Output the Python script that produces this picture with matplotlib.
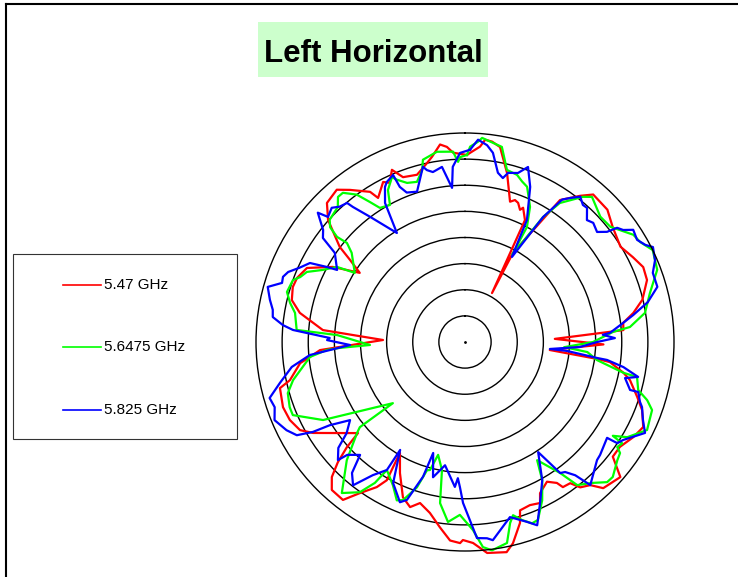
import numpy as np
import matplotlib
matplotlib.use('Agg')
import matplotlib.pyplot as plt
from matplotlib.patches import Rectangle
from matplotlib.lines import Line2D

title = "Left Horizontal"
labels = ["5.47 GHz", "5.6475 GHz", "5.825 GHz"]
colors = ["#ff0000", "#00ff00", "#0000ff"]

# angle in degrees (clockwise from top), level in dB
red_ang = [0.6, 1.5, 4.4, 5.7, 7.7, 10.2, 14.0, 17.8, 19.4, 20.9, 22.6, 23.4, 26.2, 28.9, 28.3,
           33.8, 38.2, 41.0, 47.1, 52.2, 58.5, 63.2, 67.2, 71.2, 76.6, 80.2, 83.1, 85.7, 88.0,
           91.0, 95.4, 97.3, 97.9, 101.0, 103.0, 107.7, 111.0, 115.5, 119.5, 124.1, 127.8,
           131.0, 136.6, 138.8, 141.6, 143.3, 146.0, 146.9, 149.6, 153.6, 155.0, 158.3, 161.9,
           163.1, 166.6, 168.8, 174.0, 177.7, 180.6, 181.4, 184.3, 187.7, 191.6, 195.6, 198.4,
           201.8, 206.4, 210.4, 209.5, 211.3, 214.8, 217.7, 222.0, 224.6, 226.6, 228.3, 229.6,
           239.1, 241.9, 246.0, 250.3, 256.0, 257.7, 262.7, 264.5, 266.8, 271.4, 274.8, 280.0,
           283.6, 287.7, 290.9, 295.1, 299.6, 303.3, 305.5, 307.2, 311.7, 315.2, 319.9, 322.9,
           327.7, 328.9, 332.9, 334.7, 337.0, 339.4, 344.0, 348.0, 349.9, 352.8, 354.7, 356.4]
red_db = [-4.2, -3.8, -2.5, -1.1, -1.3, -2.1, -6.7, -11.8, -11.2, -11.5, -12.6, -12.0, -14.0, -29.3, -20.6,
          -7.3, -4.4, -2.6, -2.8, -4.2, -5.1, -4.0, -3.0, -3.2, -5.1, -7.3, -9.5, -9.6, -22.8,
          -13.5, -23.7, -14.5, -12.0, -9.1, -7.6, -5.4, -3.7, -2.2, -3.0, -4.2, -4.2,
          -0.6, -1.5, -3.6, -4.5, -6.3, -6.5, -7.8, -9.0, -7.7, -6.0, -6.4, -6.1,
          -3.8, -0.4, 1.0, 0.6, -1.5, -2.1, -1.5, -1.9, -4.2, -6.6, -8.0, -6.7,
          -8.0, -12.0, -15.4, -9.6, -7.5, -4.8, -1.8, -1.9, -3.7, -6.5, -9.7, -13.1,
          -6.1, -4.2, -3.3, -3.0, -3.5, -5.7, -8.2, -10.2, -12.2, -24.3, -12.7, -7.9,
          -5.9, -5.4, -5.6, -6.6, -10.9, -15.9, -13.0, -9.9, -4.9, -2.5, -1.9, -3.5,
          -6.0, -7.8, -5.6, -6.3, -4.2, -6.3, -6.7, -5.0, -4.0, -1.9, -2.5, -3.7]

green_ang = [0.6, 1.5, 3.7, 4.8, 10.7, 13.7, 17.3, 19.6, 21.8, 25.7, 28.3, 28.4, 32.0, 34.3,
             39.1, 41.2, 47.2, 51.6, 57.5, 60.3, 63.9, 69.4, 75.2, 80.8, 84.8, 86.1, 90.0,
             93.0, 94.0, 94.7, 97.8, 101.0, 101.5, 105.5, 107.7, 110.0, 115.8, 120.4, 122.4,
             122.8, 124.6, 125.6, 127.8, 132.4, 134.6, 137.8, 141.9, 144.0, 148.6, 150.8, 154.0,
             157.7, 159.7, 162.2, 164.5, 166.0, 168.2, 172.6, 175.0, 177.6, 181.7, 185.4, 188.8,
             190.2, 193.4, 195.3, 196.5, 198.3, 201.4, 203.3, 206.7, 211.4, 212.6, 215.0, 219.2,
             225.0, 229.9, 231.0, 229.7, 241.2, 247.0, 249.6, 253.9, 257.5, 264.5, 266.7, 267.3,
             268.2, 273.1, 274.1, 279.7, 282.6, 285.7, 289.8, 291.5, 293.9, 296.9, 300.4, 302.1,
             308.2, 310.0, 309.4, 310.4, 312.1, 316.7, 318.8, 320.7, 323.7, 325.8, 327.6, 331.3,
             333.1, 336.1, 337.2, 340.0, 343.3, 346.0, 347.0, 351.6, 356.4, 357.8, 358.5]
green_db = [-4.2, -2.6, -1.6, -0.8, -2.0, -6.1, -6.5, -7.4, -8.0, -11.3, -15.0, -21.0, -11.8, -7.8,
            -4.2, -3.1, -4.7, -4.5, -1.8, -1.4, 0.0, -0.7, -3.4, -5.1, -8.3, -11.6, -15.5,
            -21.0, -18.5, -16.5, -14.5, -9.1, -6.4, -5.6, -3.4, -1.9, -1.3, -4.0, -6.5,
            -4.2, -4.6, -3.5, -3.1, -1.7, -1.8, -3.6, -5.2, -9.0, -13.5, -9.7, -6.3,
            -3.2, -3.0, -4.2, -5.6, -4.3, -0.7, 0.2, -0.6, -4.0, -6.9, -5.4, -8.8,
            -15.1, -17.8, -14.6, -14.4, -10.7, -7.5, -7.0, -9.3, -11.3, -8.0, -4.9, -2.7,
            -8.0, -13.0, -14.1, -21.9, -9.0, -4.2, -4.2, -4.7, -6.3, -10.2, -13.5, -16.0,
            -21.8, -15.5, -7.7, -7.0, -5.7, -4.6, -5.0, -6.1, -6.9, -9.5, -11.6, -15.1,
            -12.4, -10.5, -8.3, -6.1, -5.1, -4.5, -3.1, -3.1, -5.0, -7.6, -9.6, -10.1,
            -7.4, -5.5, -6.3, -7.6, -8.0, -6.1, -4.2, -3.2, -3.5, -5.5, -4.6]

blue_ang = [1.5, 3.7, 6.4, 8.4, 11.0, 13.0, 14.3, 17.4, 19.8, 22.8, 25.2, 26.9, 28.9, 32.0,
            34.3, 36.1, 38.4, 40.7, 42.3, 45.0, 47.1, 50.2, 52.2, 53.1, 54.7, 56.3, 59.3,
            61.7, 63.2, 66.7, 69.8, 74.0, 77.7, 80.9, 83.1, 86.4, 87.0, 88.5, 90.0, 92.5,
            94.7, 95.0, 96.9, 97.2, 99.0, 101.4, 102.7, 106.2, 106.1, 108.9, 110.2, 113.7,
            116.8, 121.8, 123.6, 124.0, 129.9, 131.8, 138.8, 139.1, 140.4, 142.4, 144.0,
            146.4, 150.8, 155.0, 158.5, 161.0, 165.6, 172.0, 173.6, 176.5, 180.7, 182.0,
            183.0, 184.0, 189.2, 193.3, 196.0, 197.3, 200.2, 202.1, 207.0, 211.0, 211.4,
            214.7, 218.0, 220.8, 222.9, 226.2, 227.1, 230.1, 232.4, 235.8, 238.4, 239.4,
            241.0, 243.7, 247.7, 251.1, 254.0, 257.5, 261.8, 265.2, 268.5, 270.8, 271.7,
            274.0, 275.3, 277.4, 279.5, 282.2, 285.6, 287.9, 289.7, 291.6, 294.2, 297.0,
            298.5, 299.4, 304.4, 306.2, 308.3, 311.3, 312.4, 315.2, 317.2, 319.7, 320.3,
            322.8, 328.0, 330.1, 332.7, 334.0, 336.7, 337.2, 338.7, 342.3, 346.5, 347.5,
            349.3, 352.5, 355.2, 356.0, 358.5]
blue_db = [-3.2, -1.2, -2.1, -3.4, -7.0, -7.8, -6.6, -6.1, -4.4, -7.8, -11.6, -13.8, -21.4, -11.8,
           -7.0, -5.9, -4.5, -5.4, -5.3, -7.0, -6.5, -7.1, -5.6, -3.6, -2.9, -1.3, -1.7,
           -0.8, 0.3, -0.4, -1.7, -1.7, -4.2, -7.4, -9.5, -12.2, -13.6, -11.3, -14.7, -18.0,
           -23.7, -20.4, -14.5, -12.6, -9.3, -6.2, -8.6, -7.1, -5.5, -4.6, -3.9, -2.8,
           -1.4, -4.4, -5.0, -7.2, -6.3, -6.1, -3.6, -4.3, -6.9, -8.6, -9.0,
           -14.7, -9.7, -6.0, -2.3, -3.6, -5.4, -1.7, -2.2, -2.4, -9.2, -12.2,
           -13.9, -12.2, -16.1, -13.4, -17.9, -13.0, -7.8, -6.9, -9.7, -15.9, -11.3,
           -9.0, -5.2, -6.9, -10.5, -8.8, -6.8, -8.4, -11.4, -13.4, -9.6, -6.2,
           -3.2, -1.9, -0.6, -1.5, -1.1, -3.7, -6.5, -10.2, -18.0, -13.6, -14.1,
           -7.0, -5.0, -2.9, -2.7, -1.8, -0.8, -3.2, -3.0, -3.6, -5.3, -6.7,
           -9.9, -11.9, -9.8, -6.3, -5.4, -2.5, -4.5, -3.8, -4.7, -5.1, -6.4,
           -9.9, -15.4, -9.3, -6.6, -5.9, -5.2, -7.8, -9.3, -9.8, -5.5, -6.3,
           -6.9, -6.2, -10.4, -6.4, -3.8]

series = [(red_ang, red_db), (green_ang, green_db), (blue_ang, blue_db)]

rmin, rmax = -40, 0
rings = [-35, -30, -25, -20, -15, -10, -5]

W, H = 738, 577
fig = plt.figure(figsize=(W / 100, H / 100), dpi=100)

ax = fig.add_axes([256 / W, 26 / H, 418 / W, 418 / H], projection='polar')
ax.set_theta_zero_location('N')
ax.set_theta_direction(-1)

for (ang, db), c in zip(series, colors):
    a = np.deg2rad(np.array(ang + ang[:1]))
    r = np.array(db + db[:1])
    ax.plot(a, r, color=c, lw=1.6, clip_on=False)

ax.plot([0], [rmin], 'k.', ms=2)
ax.set_ylim(rmin, rmax)
ax.set_rticks(rings)
ax.set_yticklabels([])
ax.set_xticks([])
ax.tick_params(axis='both', length=0)
ax.yaxis.grid(True, color='black', lw=1.0)
ax.spines['polar'].set_color('black')
ax.spines['polar'].set_linewidth(1.0)

# frame lines (top and left)
fig.add_artist(Line2D([6 / W, 1], [1 - 4 / H, 1 - 4 / H], color='black', lw=1.5))
fig.add_artist(Line2D([6.5 / W, 6.5 / W], [0, 1 - 4 / H], color='black', lw=1.5))

# title box
fig.add_artist(Rectangle((258 / W, 1 - 77 / H), 230 / W, 55 / H, facecolor='#ccffcc',
                         edgecolor='none'))
fig.text(373 / W, 1 - 62 / H, title, ha='center', va='baseline', fontsize=22.5,
         fontweight='bold', family=['Liberation Sans', 'DejaVu Sans'])

# legend box
fig.add_artist(Rectangle((13 / W, 1 - 439 / H), 224 / W, 185 / H, facecolor='white',
                         edgecolor='#333333', lw=0.8))
ys = [285, 347, 410]
for lab, c, y in zip(labels, colors, ys):
    fig.add_artist(Line2D([63 / W, 101 / W], [1 - y / H, 1 - y / H], color=c, lw=1.2))
    fig.text(104 / W, 1 - y / H, lab, ha='left', va='center', fontsize=11,
             family=['Liberation Sans', 'DejaVu Sans'])

fig.savefig('out.png', dpi=100)
